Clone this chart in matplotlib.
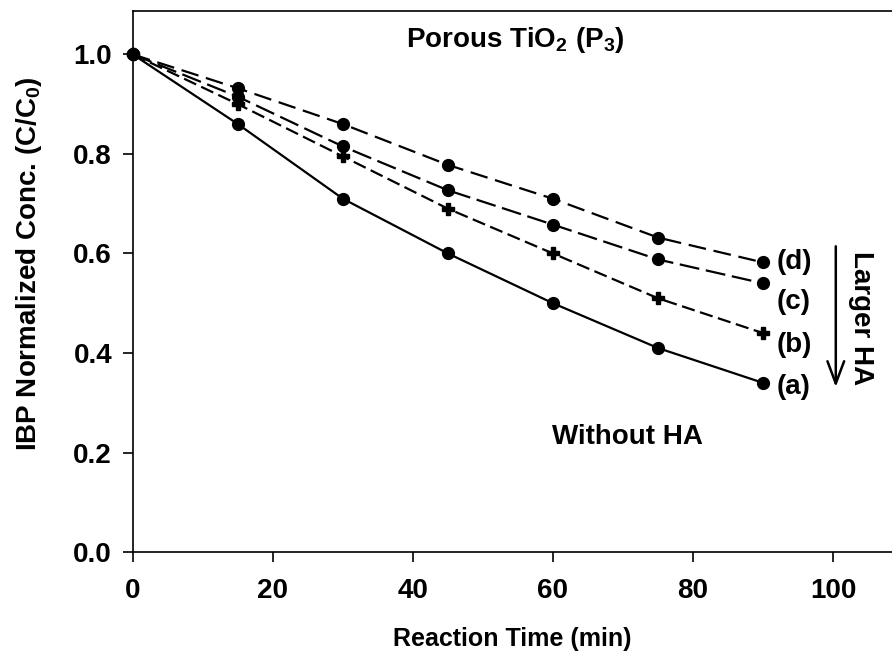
import matplotlib
matplotlib.use("Agg")
import matplotlib.pyplot as plt

plt.rcParams['font.family'] = ['Liberation Sans', 'DejaVu Sans']
plt.rcParams['font.weight'] = 'bold'
plt.rcParams['mathtext.fontset'] = 'custom'
plt.rcParams['mathtext.rm'] = 'Liberation Sans:bold'
plt.rcParams['mathtext.bf'] = 'Liberation Sans:bold'
plt.rcParams['mathtext.it'] = 'Liberation Sans:bold'

time_min = [0, 15, 30, 45, 60, 75, 90]
conc_a = [1.0, 0.86, 0.71, 0.60, 0.50, 0.41, 0.34]
conc_b = [1.0, 0.90, 0.795, 0.69, 0.60, 0.51, 0.44]
conc_c = [1.0, 0.915, 0.815, 0.727, 0.658, 0.588, 0.54]
conc_d = [1.0, 0.932, 0.86, 0.778, 0.71, 0.632, 0.582]
series_labels = ['(a)', '(b)', '(c)', '(d)']
x_ticks = [0, 20, 40, 60, 80, 100]
y_ticks = [0.0, 0.2, 0.4, 0.6, 0.8, 1.0]

fig = plt.figure(figsize=(8.92, 6.56), dpi=100)
ax = fig.add_axes([0.149, 0.1585, 0.851, 0.8245])

lw = 1.6
ax.plot(time_min, conc_d, color='black', lw=lw, dashes=(8, 3.5), marker='o', ms=8.5, clip_on=False, zorder=3)
ax.plot(time_min, conc_c, color='black', lw=lw, dashes=(9, 3), marker='o', ms=8.5, clip_on=False, zorder=3)
ax.plot(time_min, conc_b, color='black', lw=lw, dashes=(6, 2.5), marker='P', ms=8.5, clip_on=False, zorder=3)
ax.plot(time_min, conc_a, color='black', lw=lw, ls='-', marker='o', ms=8.5, clip_on=False, zorder=3)

ax.set_xlim(0, 108.43)
ax.set_ylim(0, 1.087)
ax.set_xticks(x_ticks)
ax.set_yticks(y_ticks)
ax.set_xticklabels([str(v) for v in x_ticks])
ax.set_yticklabels([f"{v:.1f}" for v in y_ticks])
ax.tick_params(axis='both', direction='out', length=7, width=1.2, labelsize=20, pad=8)
ax.tick_params(axis='x', pad=12)
for lab in ax.get_xticklabels() + ax.get_yticklabels():
    lab.set_fontweight('bold')
ax.spines['right'].set_visible(False)
for s in ['left', 'top', 'bottom']:
    ax.spines[s].set_linewidth(1.2)

ax.set_xlabel('Reaction Time (min)', fontsize=18, fontweight='bold', labelpad=16)
ax.set_ylabel(r'IBP Normalized Conc. (C/C$_0$)', fontsize=20, fontweight='bold')
ax.yaxis.set_label_coords(-0.117, 0.534)

ax.text(54.6, 1.029, r'Porous TiO$_{2}$ (P$_3$)', fontsize=20, fontweight='bold', ha='center', va='center')
ax.text(70.6, 0.231, 'Without HA', fontsize=20, fontweight='bold', ha='center', va='center')

label_y = [0.332, 0.416, 0.502, 0.583]
for lbl, yy in zip(series_labels, label_y):
    ax.text(92.0, yy, lbl, fontsize=20, fontweight='bold', ha='left', va='center')

ax.annotate('', xy=(100.4, 0.326), xytext=(100.4, 0.62),
            arrowprops=dict(arrowstyle='->,head_length=1.6,head_width=0.6', color='black', lw=1.8))
ax.text(104.0, 0.47, 'Larger HA', fontsize=20, fontweight='bold', rotation=-90, ha='center', va='center')

fig.savefig('out.png', dpi=100)
